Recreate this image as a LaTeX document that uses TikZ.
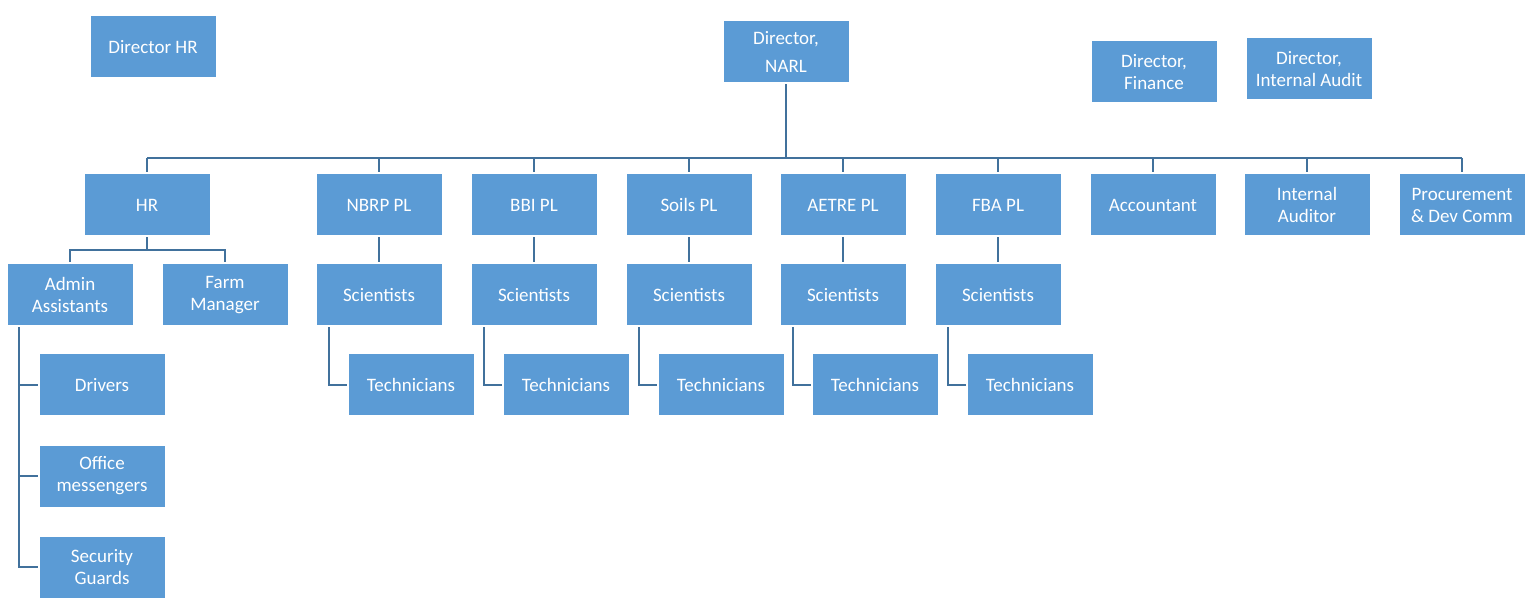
\documentclass[tikz,border=0pt]{standalone}
\usepackage{fontspec}
\setmainfont{Carlito}
\begin{document}
\begin{tikzpicture}[x=0.5pt,y=-0.5pt,
 box/.style={draw=white,line width=1pt,fill={rgb,255:red,91;green,155;blue,213},text=white,minimum width=63.5pt,minimum height=31.5pt,inner sep=1pt,align=center,font=\fontsize{9.5}{11}\selectfont},
 ln/.style={draw={rgb,255:red,65;green,113;blue,156},line width=1.2pt}]
\useasboundingbox (0,0) rectangle (1536,614);
\node[box] (dhr) at (153,47) {Director HR};
\node[box] (dn) at (786,52) {Director,\\[3pt]NARL};
\node[box] (df) at (1154,72) {Director,\\Finance};
\node[box] (dia) at (1309,69) {Director,\\Internal Audit};
\foreach \n/\x/\t in {hr/147/HR,p1/379/NBRP PL,p2/534/BBI PL,p3/689/Soils PL,p4/843/AETRE PL,p5/998/FBA PL,acc/1153/Accountant,ia/1307/{Internal\\Auditor},pr/1462/{Procurement\\\& Dev Comm}}
  \node[box] (\n) at (\x,205) {\t};
\node[box] (aa) at (70,295) {Admin\\Assistants};
\node[box] (fm) at (225,295) {Farm\\Manager};
\foreach \i/\x in {1/379,2/534,3/689,4/843,5/998}{
  \node[box] (s\i) at (\x,295) {Scientists};
  \node[box] (t\i) at (\x+32,385) {Technicians};
  \draw[ln] (p\i) -- (s\i);
  \draw[ln] (s\i.south -| {\x-50,0}) |- (t\i.west);
}
\node[box] (dr) at (102,385) {Drivers};
\node[box] (om) at (102,476) {Office\\messengers};
\node[box] (sg) at (102,567) {Security\\Guards};
\coordinate (bl) at (147,158); \coordinate (br) at (1462,158);
\draw[ln] (dn.south) -- (786,158);
\draw[ln] (bl) -- (br);
\foreach \n in {hr,p1,p2,p3,p4,p5,acc,ia,pr} \draw[ln] (\n.north |- bl) -- (\n.north);
\draw[ln] (hr.south) -- (147,250) -| (aa.north);
\draw[ln] (147,250) -| (fm.north);
\foreach \n in {dr,om,sg} \draw[ln] (aa.south -| 19,0) |- (\n.west);
\end{tikzpicture}
\end{document}
